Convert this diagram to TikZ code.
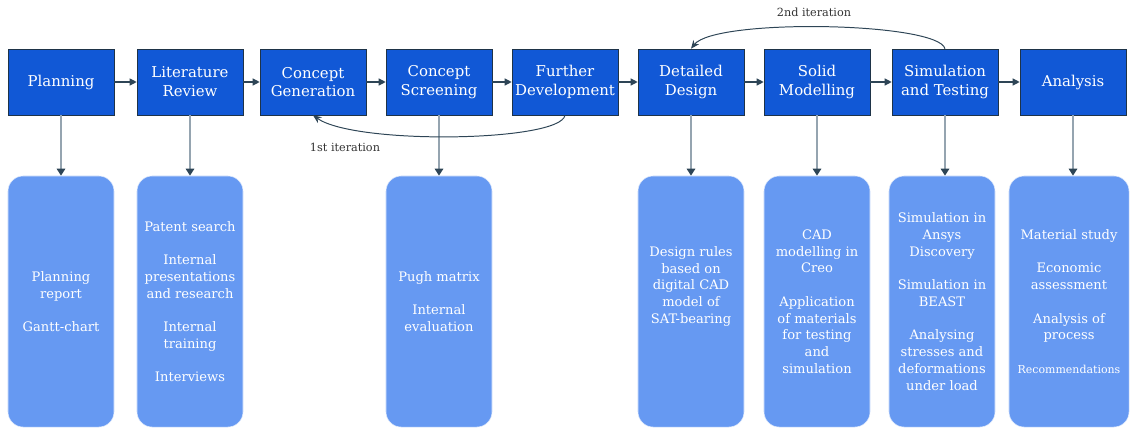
\documentclass[tikz,border=0pt]{standalone}
\usepackage{fontspec}
\setmainfont{DejaVu Serif}
\definecolor{stageblue}{HTML}{1158D6}
\definecolor{stageedge}{HTML}{1E3348}
\definecolor{taskblue}{HTML}{6699F2}
\definecolor{arrowdark}{HTML}{2E4556}
\definecolor{droplgray}{HTML}{95A4B0}
\usetikzlibrary{arrows.meta,positioning,calc}

\tikzset{
  stage/.style={draw=stageedge,fill=stageblue,text=white,align=center,
    minimum width=2.65cm,minimum height=1.65cm,inner sep=0pt,
    font=\fontsize{10.6}{13.4}\selectfont},
  tasks/.style={draw=white!80!taskblue,fill=taskblue,text=white,align=center,
    rounded corners=0.38cm,minimum width=2.65cm,minimum height=6.275cm,inner sep=0pt,
    font=\fontsize{9.3}{11.9}\selectfont},
  flow/.style={arrowdark,line width=0.8pt,-{Triangle[length=5pt,width=5pt]}},
  drop/.style={draw=droplgray,line width=1.2pt,-{Triangle[length=5pt,width=6pt,color=arrowdark,fill=arrowdark]}},
  iter/.style={arrowdark,line width=0.7pt,-{Stealth[length=6pt,width=5pt]}},
  iterlabel/.style={text=black!80,font=\fontsize{8}{10}\selectfont}
}

\begin{document}
\begin{tikzpicture}[x=0.025cm,y=-0.025cm]
  \useasboundingbox (0,0) rectangle (1130,428);
  % Stages along the top
  \foreach \x/\nm/\txt in {
    61/plan/Planning,
    190/lit/{Literature\\Review},
    313/cgen/{Concept\\Generation},
    439/cscr/{Concept\\Screening},
    565/fdev/{Further\\Development},
    691/ddes/{Detailed\\Design},
    817/smod/{Solid\\Modelling},
    945/stest/{Simulation\\and Testing},
    1073/anal/Analysis}{
    \node[stage] (\nm) at (\x,82) {\txt};
  }
  % Flow between stages
  \foreach \a/\b in {plan/lit,lit/cgen,cgen/cscr,cscr/fdev,fdev/ddes,ddes/smod,smod/stest,stest/anal}{
    \draw[flow] (\a.east) -- (\b.west);
  }
  % Activities below
  \node[tasks] (planT) at (61,301.5) {Planning\\report\\[11.9pt]Gantt-chart};
  \node[tasks] (litT) at (190,301.5) {Patent search\\[11.9pt]Internal\\presentations\\and research\\[11.9pt]Internal\\training\\[11.9pt]Interviews};
  \node[tasks] (cscrT) at (439,301.5) {Pugh matrix\\[11.9pt]Internal\\evaluation};
  \node[tasks] (ddesT) at (691,301.5) {Design rules\\based on\\digital CAD\\model of\\SAT-bearing\\[11.9pt]~};
  \node[tasks] (smodT) at (817,301.5) {CAD\\modelling in\\Creo\\[11.9pt]Application\\of materials\\for testing\\and\\simulation};
  \node[tasks] (stestT) at (942,301.5) {Simulation in\\Ansys\\Discovery\\[11.9pt]Simulation in\\BEAST\\[11.9pt]Analysing\\stresses and\\deformations\\under load};
  \node[tasks,minimum width=3cm] (analT) at (1069,301.5) {Material study\\[11.9pt]Economic\\assessment\\[11.9pt]Analysis of\\process\\[11.9pt]{\fontsize{7.8}{10}\selectfont Recommendations}};
  % Drops into the activities
  \foreach \s in {plan,lit,cscr,ddes,smod,stest,anal}{
    \draw[drop] (\s.south) -- (\s.south |- \s T.north);
  }
  % Iterations
  \draw[iter] (fdev.south) .. controls (560,142) and (355,145) .. (cgen.south);
  \node[iterlabel] (it1) at (345,147) {1st iteration};
  \draw[iter] (stest.north) .. controls (938,22) and (715,18) .. (ddes.north);
  \node[iterlabel] (it2) at (814,12) {2nd iteration};
\end{tikzpicture}
\end{document}
